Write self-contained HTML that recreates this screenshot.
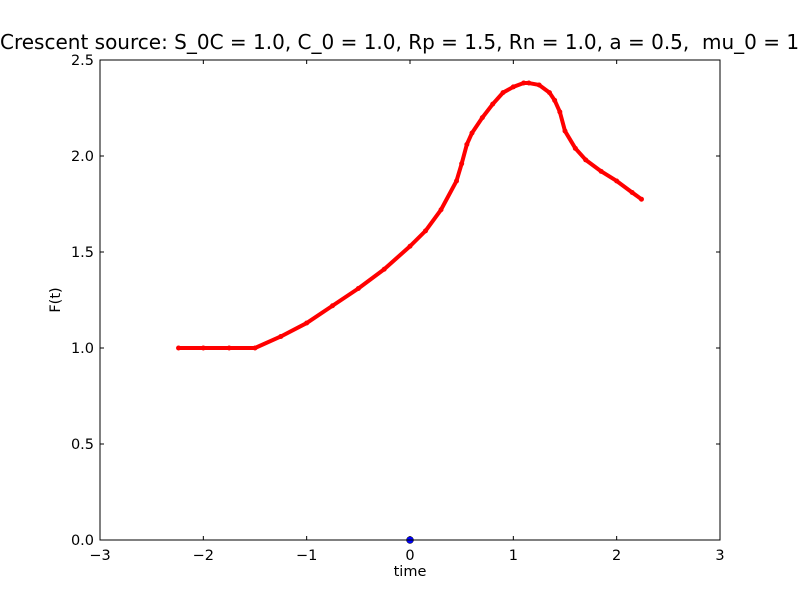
<!DOCTYPE html>
<html><head><meta charset="utf-8"><style>
body{margin:0;background:#fff;}
svg text{font-family:"DejaVu Sans","Liberation Sans",sans-serif;fill:#000;}
</style></head><body>
<svg width="800" height="600" xmlns="http://www.w3.org/2000/svg">
<rect width="800" height="600" fill="#fff"/>
<text x="0" y="49" font-size="20">Crescent source: S_0C = 1.0, C_0 = 1.0, Rp = 1.5, Rn = 1.0, a = 0.5, &#160;mu_0 = 1</text>
<g id="plot"></g>
<rect x="100" y="60" width="620" height="480" fill="none" stroke="#000" stroke-width="1"/>
<text x="410" y="576" font-size="14.5" text-anchor="middle">time</text>
<text x="60" y="300" font-size="14.5" text-anchor="middle" transform="rotate(-90 60 300)">F(t)</text>
</svg>
<script>
const xs = [-2.24,-2.0,-1.75,-1.5,-1.25,-1.0,-0.75,-0.5,-0.25,0,0.15,0.3,0.45,0.5,0.55,0.6,0.7,0.8,0.9,1.0,1.1,1.15,1.25,1.35,1.4,1.45,1.5,1.6,1.7,1.85,2.0,2.15,2.24];
const ys = [1.0,1.0,1.0,1.0,1.06,1.13,1.22,1.31,1.41,1.53,1.61,1.72,1.87,1.96,2.06,2.12,2.2,2.27,2.33,2.36,2.38,2.38,2.37,2.33,2.29,2.23,2.13,2.04,1.98,1.92,1.87,1.81,1.775];
const xTicks = [-3,-2,-1,0,1,2,3];
const yTicks = [0.0,0.5,1.0,1.5,2.0,2.5];
const X0=100,X1=720,Y0=540,Y1=60;
function sx(v){return X0+(v+3)/6*(X1-X0);}
function sy(v){return Y0-v/2.5*(Y0-Y1);}
const NS="http://www.w3.org/2000/svg";
const g=document.getElementById('plot');
function mk(t,a){const e=document.createElementNS(NS,t);for(const k in a)e.setAttribute(k,a[k]);g.appendChild(e);return e;}
xTicks.forEach(v=>{
  const x=sx(v);
  const t1=mk('line',{x1:x,y1:Y0,x2:x,y2:Y0-4,stroke:'#000'});
  
  
  const t2=mk('line',{x1:x,y1:Y1,x2:x,y2:Y1+4,stroke:'#000'});
  
  
  const l=mk('text',{x:x,y:Y0+20,'font-size':14.5,'text-anchor':'middle'});
  l.textContent=(v<0?'\u2212'+(-v):String(v));
  
  
});
yTicks.forEach(v=>{
  const y=sy(v);
  const t1=mk('line',{x1:X0,y1:y,x2:X0+4,y2:y,stroke:'#000'});
  
  
  const t2=mk('line',{x1:X1,y1:y,x2:X1-4,y2:y,stroke:'#000'});
  
  
  const l=mk('text',{x:X0-6,y:y+5,'font-size':14.5,'text-anchor':'end'});
  l.textContent=v.toFixed(1);
  
  
});
const pl=mk('polyline',{points:xs.map((v,i)=>sx(v)+','+sy(ys[i])).join(' '),fill:'none',stroke:'#f00','stroke-width':4,'stroke-linejoin':'round','stroke-linecap':'round'});


xs.forEach((v,i)=>{
  const c=mk('circle',{cx:sx(v),cy:sy(ys[i]),r:2.5,fill:'#f00'});
  
  
});
const b=mk('circle',{cx:sx(0),cy:sy(0),r:3.5,fill:'#00f',stroke:'#000','stroke-width':0.5});


</script>
</body></html>
